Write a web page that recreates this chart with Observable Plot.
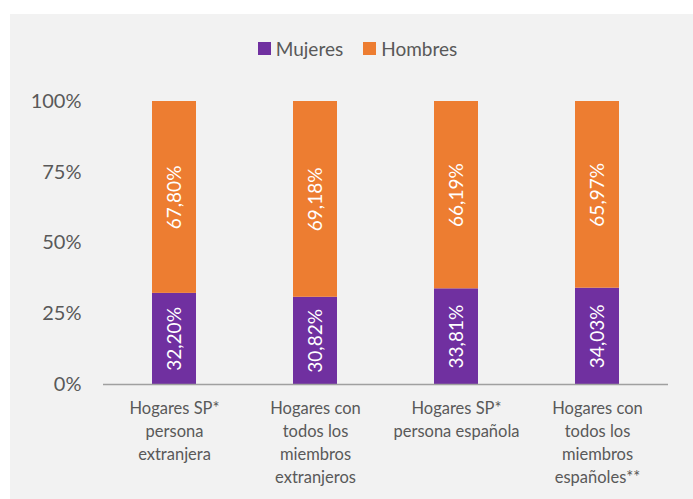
<!DOCTYPE html>
<html>
<head>
<meta charset="utf-8">
<script src="https://cdn.jsdelivr.net/npm/d3@7"></script>
<script src="https://cdn.jsdelivr.net/npm/@observablehq/plot@0.6"></script>
<style>
  html, body { margin: 0; padding: 0; background: #ffffff; }
  #card { position: absolute; left: 10px; top: 14px; width: 683px; height: 485px; background: #f2f2f2; font-family: Lato, "Open Sans", sans-serif; }
  #legend { height: 60px; display: flex; justify-content: center; align-items: center; gap: 20px; font-size: 19px; color: #595959; padding-left: 12px; padding-top: 8px; box-sizing: border-box; }
  #legend .item { display: flex; align-items: center; gap: 5px; }
  #legend .sw { width: 13px; height: 13px; display: inline-block; }
  svg { display: block; }
</style>
</head>
<body>
<div id="card">
  <div id="legend"></div>
  <div id="chart"></div>
</div>
<script>
const categories = [
  "Hogares SP*\npersona\nextranjera",
  "Hogares con\ntodos los\nmiembros\nextranjeros",
  "Hogares SP*\npersona española",
  "Hogares con\ntodos los\nmiembros\nespañoles**"
];
const seriesNames = ["Mujeres", "Hombres"];
const seriesColors = ["#7030a0", "#ed7d31"];
const mujeres = [32.20, 30.82, 33.81, 34.03];
const hombres = [67.80, 69.18, 66.19, 65.97];
const yTicks = [0, 25, 50, 75, 100];

const data = [];
categories.forEach((c, i) => {
  data.push({cat: c, series: "Mujeres", value: mujeres[i]});
  data.push({cat: c, series: "Hombres", value: hombres[i]});
});

const legend = document.getElementById("legend");
seriesNames.forEach((s, i) => {
  const it = document.createElement("div");
  it.className = "item";
  const sw = document.createElement("span");
  sw.className = "sw";
  sw.style.background = seriesColors[i];
  const t = document.createElement("span");
  t.textContent = s;
  it.appendChild(sw); it.appendChild(t);
  legend.appendChild(it);
});

const fmt = v => v.toFixed(2).replace(".", ",") + "%";

const plot = Plot.plot({
  width: 683,
  height: 425,
  marginTop: 27,
  marginBottom: 115,
  marginLeft: 93,
  marginRight: 25,
  style: { background: "transparent", fontFamily: "Lato, 'Open Sans', sans-serif", color: "#595959" },
  x: { domain: categories, paddingInner: 0.69, paddingOuter: 0.345, label: null },
  y: { domain: [0, 100], label: null },
  color: { domain: seriesNames, range: seriesColors },
  marks: [
    Plot.barY(data, { x: "cat", y: "value", fill: "series" }),
    Plot.ruleY([0], { stroke: "#a0a0a0", strokeWidth: 1.5 }),
    Plot.axisY({ ticks: yTicks, tickFormat: d => d + "%", tickSize: 0, tickPadding: 22, fontSize: 20, fill: "#595959", line: true, stroke: "#a0a0a0", label: null }),
    Plot.axisX({ tickSize: 0, tickPadding: 13, fontSize: 16.5, lineHeight: 1.4, fill: "#595959", textAnchor: "middle", label: null }),
    Plot.text(data, Plot.stackY({ x: "cat", y: "value", z: "series", text: d => fmt(d.value), rotate: -90, fill: "white", fontSize: 19 }))
  ]
});
document.getElementById("chart").appendChild(plot);
</script>
</body>
</html>
